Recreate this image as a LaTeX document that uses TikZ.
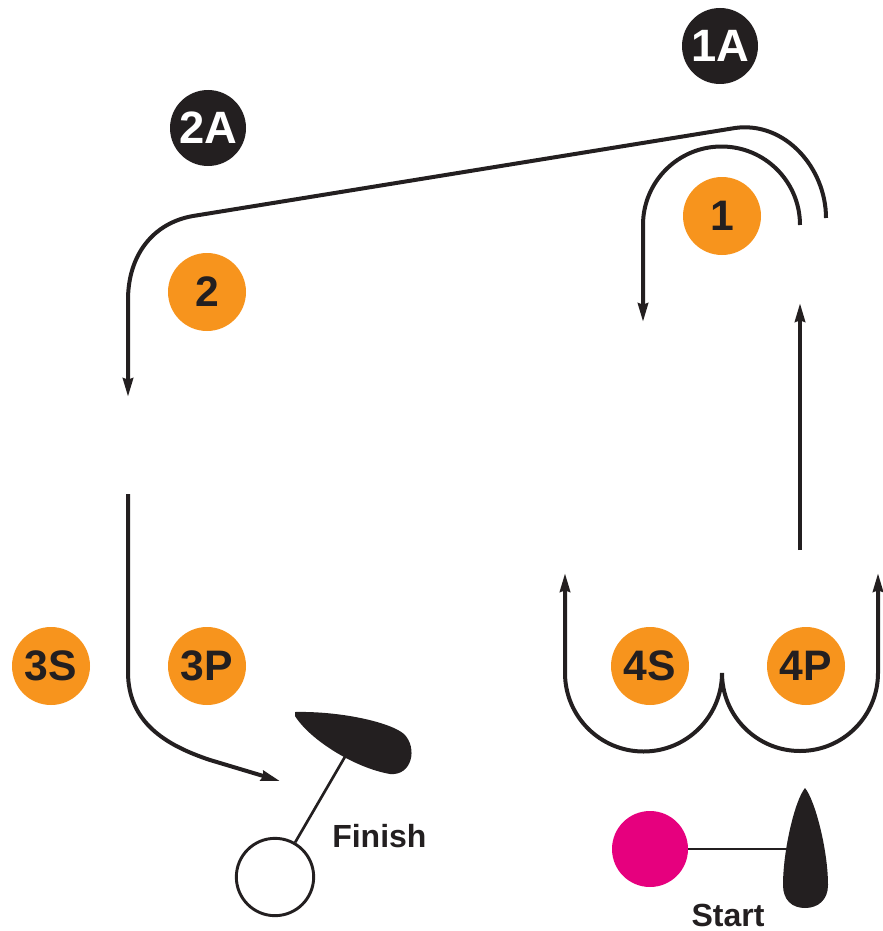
\documentclass[tikz,border=0pt]{standalone}
\usepackage{fontspec}
\setmainfont{Liberation Sans}
\usetikzlibrary{arrows.meta}
\definecolor{orng}{HTML}{F7941D}
\definecolor{ink}{HTML}{231F20}
\definecolor{pink}{HTML}{E6007E}
\tikzset{
  posdisk/.style={circle,fill=orng,minimum size=58.5pt,inner sep=0pt,text=ink,
    font=\fontsize{32}{32}\selectfont\bfseries},
  badgedisk/.style={circle,fill=ink,minimum size=57pt,inner sep=0pt,text=white,
    font=\fontsize{34}{34}\selectfont\bfseries},
  route/.style={draw=ink,line width=3pt},
  tipend/.style={-{Stealth[length=14pt,width=7.5pt,inset=1pt]}},
  lbl/.style={text=ink,font=\fontsize{24}{24}\selectfont\bfseries,inner sep=0pt},
}
\begin{document}
\begin{tikzpicture}[x=0.75pt,y=-0.75pt]
\useasboundingbox (0,0) rectangle (882,931);
% badges
\node[badgedisk] (b1A) at (720,46) {1A};
\node[badgedisk] (b2A) at (208,128) {2A};
% positions
\node[posdisk] (p1) at (722,216) {1};
\node[posdisk] (p2) at (207,292) {2};
\node[posdisk] (p3S) at (51,666) {3S};
\node[posdisk] (p3P) at (207,666) {3P};
\node[posdisk] (p4S) at (650,666) {4S};
\node[posdisk] (p4P) at (806,666) {4P};
% route coordinates
\coordinate (o1) at (826,218);
\coordinate (o2) at (735,128);
\coordinate (o3) at (193,216);
\coordinate (o4) at (128,300);
\coordinate (o5) at (128,397);
\coordinate (i1) at (800,225);
\coordinate (i2) at (643,322);
\coordinate (u1) at (800,550);
\coordinate (u2) at (800,303);
\coordinate (w1) at (565,573);
\coordinate (w2) at (565,673);
\coordinate (w3) at (722,673);
\coordinate (w4) at (878,673);
\coordinate (w5) at (878,573);
\coordinate (f1) at (128,494);
\coordinate (f2) at (128,672);
\coordinate (f3) at (210,760);
\coordinate (f4) at (280,781);
% long route 2A
\draw[route,tipend] (o1) .. controls (826,168) and (785,121) .. (o2) -- (o3)
   .. controls (153,223) and (128,255) .. (o4) -- (o5);
% inner route 1
\draw[route,tipend] (i1) arc (0:-180:78.5) -- (i2);
% vertical up arrow
\draw[route,tipend] (u1) -- (u2);
% W shape
\draw[route,{Stealth[length=14pt,width=7.5pt,inset=1pt]}-{Stealth[length=14pt,width=7.5pt,inset=1pt]}]
   (w1) -- (w2) arc (180:0:78.5) arc (180:0:78) -- (w5);
% route to finish
\draw[route,tipend] (f1) -- (f2) .. controls (128,722) and (165,745) .. (f3) -- (f4);
% finish club
\node[circle,draw=ink,fill=white,line width=2.2pt,minimum size=58pt,inner sep=0pt] (ball) at (275,877) {};
\coordinate (fh) at (346,755);
\draw[ink,line width=2pt] (ball) -- (fh);
\fill[ink] (295,712) .. controls (340,711) and (390,722) .. (404,734)
   .. controls (418,748) and (412,776) .. (390,774)
   .. controls (355,768) and (310,740) .. (295,716) -- cycle;
\node[lbl,anchor=west] (finish) at (332,836) {Finish};
% start club
\node[circle,fill=pink,minimum size=57pt,inner sep=0pt] (sball) at (650,849) {};
\coordinate (sh) at (795,849);
\draw[ink,line width=2pt] (sball) -- (sh);
\fill[ink] (805,788) .. controls (815,800) and (828,850) .. (828,885)
   .. controls (828,900) and (818,908) .. (805,908)
   .. controls (792,908) and (783,900) .. (783,885)
   .. controls (783,850) and (795,800) .. (805,788) -- cycle;
\node[lbl] (start) at (728,915) {Start};
\end{tikzpicture}
\end{document}
